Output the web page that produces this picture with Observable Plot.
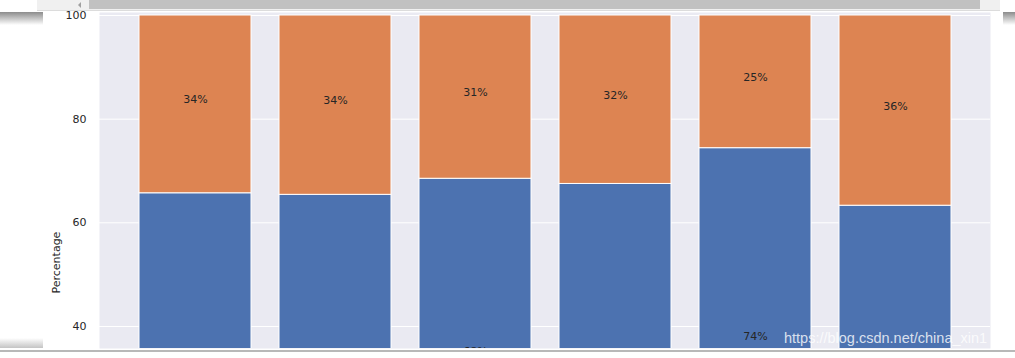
<!DOCTYPE html>
<html>
<head>
<meta charset="utf-8">
<script src="https://cdn.jsdelivr.net/npm/d3@7"></script>
<script src="https://cdn.jsdelivr.net/npm/@observablehq/plot@0.6"></script>
<style>
  html, body { margin: 0; padding: 0; background: white; }
  body { width: 1015px; height: 358px; position: relative; overflow: hidden; }
  #chart { position: absolute; left: 0; top: 0; }
  .deco { position: absolute; }
</style>
</head>
<body>
<div id="chart"></div>
<div class="deco" style="left:37px;top:0;width:963px;height:10px;background:#f0f0f0;"></div>
<div class="deco" style="left:89px;top:0;width:891px;height:9px;background:#c1c1c1;"></div>
<div class="deco" style="left:78px;top:2px;width:0;height:0;border-top:3px solid transparent;border-bottom:3px solid transparent;border-right:3px solid #a0a0a0;"></div>
<div class="deco" style="left:37px;top:10px;width:963px;height:1px;background:#dcdcdc;"></div>
<div class="deco" style="left:0;top:12px;width:43px;height:13px;background:linear-gradient(#8c8c8c,#ffffff);"></div>
<div class="deco" style="left:1003px;top:12px;width:12px;height:13px;background:linear-gradient(#8c8c8c,#ffffff);"></div>
<div class="deco" style="left:0;top:338px;width:43px;height:10px;background:linear-gradient(#ffffff,#c4c4c4);"></div>
<div class="deco" style="left:0;top:350px;width:1015px;height:2px;background:#b8b8b8;"></div>
<div class="deco" style="left:784px;top:330px;font-family:'Liberation Sans',Arial,sans-serif;font-size:14.5px;color:rgba(255,255,255,0.8);white-space:nowrap;">https://blog.csdn.net/china_xin1</div>
<script>
// ---- data ----
const categories = ["1", "2", "3", "4", "5", "6"];
const seriesNames = ["bottom", "top"];
const bottomValues = [65.7, 65.4, 68.5, 67.5, 74.4, 63.3];
const topValues = [34.3, 34.6, 31.5, 32.5, 25.6, 36.7];
const bottomLabels = ["65%", "65%", "68%", "67%", "74%", "63%"];
const topLabels = ["34%", "34%", "31%", "32%", "25%", "36%"];
const yTicks = [40, 60, 80, 100];
const yLabel = "Percentage";

const rows = [];
categories.forEach((c, i) => rows.push({cat: c, series: seriesNames[0], value: bottomValues[i], label: bottomLabels[i]}));
categories.forEach((c, i) => rows.push({cat: c, series: seriesNames[1], value: topValues[i], label: topLabels[i]}));

const chart = Plot.plot({
  width: 1015,
  height: 348,
  marginTop: 12,
  marginBottom: 0,
  marginLeft: 99,
  marginRight: 25,
  style: {fontFamily: "'DejaVu Sans', sans-serif", fontSize: "11px", color: "#262626", background: "transparent", overflow: "visible"},
  x: {type: "band", domain: categories, paddingInner: 0.2, paddingOuter: 0.282, axis: null},
  y: {domain: [35.75, 100.58], ticks: yTicks, tickSize: 0, tickPadding: 13, label: null},
  color: {domain: seriesNames, range: ["#4C72B0", "#DD8452"]},
  marks: [
    Plot.frame({fill: "#EAEAF2", stroke: "none"}),
    Plot.ruleY(yTicks, {stroke: "white", strokeWidth: 1}),
    Plot.barY(rows, {x: "cat", y: "value", fill: "series", stroke: "white", strokeWidth: 1, clip: true}),
    Plot.text(rows, Plot.stackY({x: "cat", y: "value", z: "series", text: "label", lineAnchor: "bottom", fontSize: 11, dy: -1, fill: "#262626", clip: true})),
    Plot.text([yLabel], {frameAnchor: "left", rotate: -90, dx: -43, dy: 113, fontSize: 11, fill: "#262626"})
  ]
});
document.getElementById("chart").appendChild(chart);
</script>
</body>
</html>
